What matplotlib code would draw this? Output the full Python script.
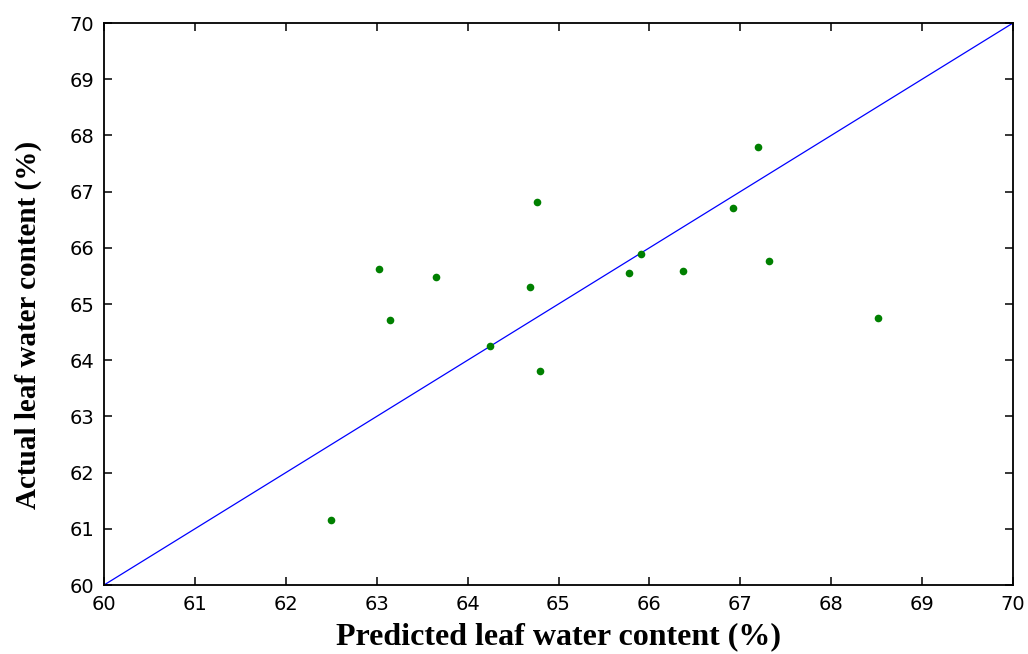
import matplotlib
matplotlib.use("Agg")
import matplotlib.pyplot as plt
import numpy as np

# predicted vs measured leaf water content (%)
predicted = [62.50, 63.03, 63.15, 63.65, 64.25, 64.69, 64.76, 64.80,
             65.78, 65.91, 66.37, 66.92, 67.20, 67.32, 68.51]
actual = [61.15, 65.62, 64.72, 65.48, 64.25, 65.30, 66.82, 63.81,
          65.56, 65.89, 65.59, 66.70, 67.79, 65.77, 64.75]
ticks = list(range(60, 71))
one_to_one = [60, 70]

fig = plt.figure(figsize=(10.28, 6.54), dpi=100)
ax = fig.add_axes([0.1012, 0.1055, 0.8842, 0.8593])

ax.plot(one_to_one, one_to_one, color="#0000ff", linewidth=0.9)
ax.plot(predicted, actual, linestyle="none", marker="o", markersize=5.5,
        color="#008000", markeredgewidth=0)

ax.set_xlim(60, 70)
ax.set_ylim(60, 70)
ax.set_xticks(ticks)
ax.set_yticks(ticks)
ax.tick_params(direction="in", length=6, width=1.1, top=True, right=True,
               labelsize=14, pad=7, colors="black")
for sp in ax.spines.values():
    sp.set_linewidth(1.3)

ax.set_xlabel("Predicted leaf water content (%)", family="Liberation Serif",
              fontweight="bold", fontsize=23)
ax.set_ylabel("Actual leaf water content (%)", family="Liberation Serif",
              fontweight="bold", fontsize=21)
ax.xaxis.set_label_coords(0.5, -0.067)
ax.yaxis.set_label_coords(-0.068, 0.462)

plt.savefig("out.png", dpi=100)
